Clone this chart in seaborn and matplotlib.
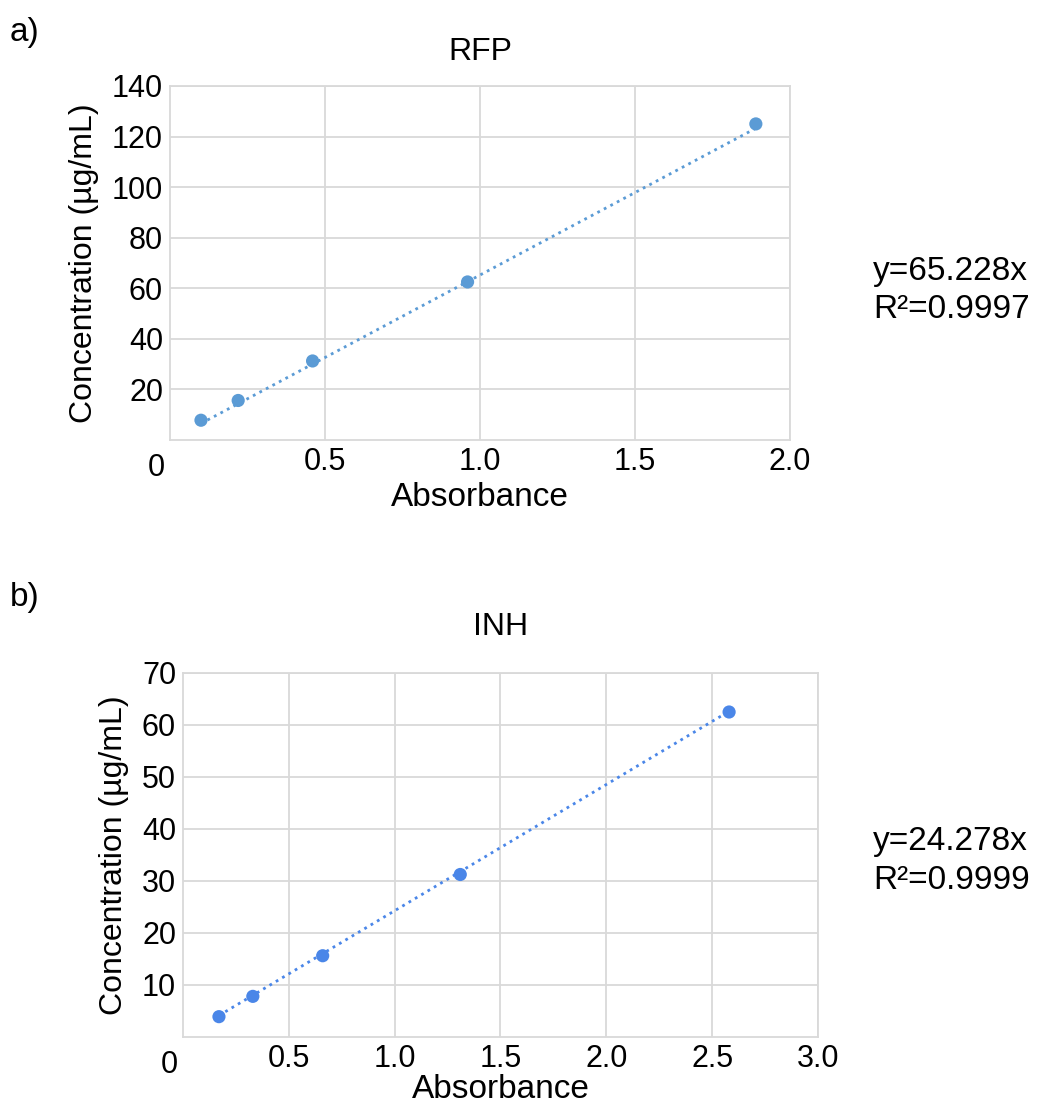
import numpy as np
import pandas as pd
import matplotlib
matplotlib.use("Agg")
import matplotlib.pyplot as plt
import seaborn as sns

# RFP calibration
rfp_abs = [0.10, 0.22, 0.46, 0.96, 1.89]
rfp_conc = [7.8125, 15.625, 31.25, 62.5, 125]
rfp_slope = 65.228
rfp_r2 = "0.9997"

# INH calibration
inh_abs = [0.17, 0.33, 0.66, 1.31, 2.58]
inh_conc = [3.906, 7.8125, 15.625, 31.25, 62.5]
inh_slope = 24.278
inh_r2 = "0.9999"

sns.set_style("white")
plt.rcParams['font.family'] = ['Liberation Sans', 'DejaVu Sans']
plt.rcParams['text.color'] = 'black'
plt.rcParams['axes.labelcolor'] = 'black'

fig = plt.figure(figsize=(10.39, 11.08), dpi=100)


def panel(rect, x, y, slope, r2, title, color, xmax, ymax, ystep, xticks, tag, tag_y, eq_y, tpad, xpad):
    ax = fig.add_axes(rect)
    df = pd.DataFrame({"Absorbance": x, "Concentration": y})
    sns.scatterplot(data=df, x="Absorbance", y="Concentration", ax=ax,
                    color=color, s=90, edgecolor="none", zorder=3)
    # linear trendline through origin
    xs = np.array([min(x), max(x)])
    ax.plot(xs, slope * xs, linestyle=":", color=color, linewidth=2, zorder=2)

    ax.set_xlim(0, xmax)
    ax.set_ylim(0, ymax)
    ax.set_yticks(np.arange(ystep, ymax + 1, ystep))
    ax.set_xticks(xticks)
    ax.set_xticklabels([f"{t:.1f}" for t in xticks])
    # shared origin label, low-left of the corner
    ax.annotate("0", xy=(0, 0), xycoords="axes fraction", xytext=(-10, -20),
                textcoords="offset points", ha="center", va="center", fontsize=22)

    ax.grid(True, color="#d9d9d9", linewidth=1.3)
    ax.set_axisbelow(True)
    for sp in ax.spines.values():
        sp.set_color("#d9d9d9")
        sp.set_linewidth(1.3)
    ax.tick_params(length=0, labelsize=22, colors="black", pad=5)

    ax.set_xlabel("Absorbance", fontsize=24, labelpad=xpad)
    ax.set_ylabel("Concentration (µg/mL)", fontsize=23, labelpad=9)
    ax.set_title(title, fontsize=23, pad=tpad)

    fig.text(0.009, tag_y, tag, fontsize=24, va="center")
    fig.text(0.84, eq_y, f"y={slope}x\nR²={r2}", fontsize=24, va="center", linespacing=1.3)
    return ax


panel([0.1636, 0.6029, 0.5967, 0.3195], rfp_abs, rfp_conc, rfp_slope, rfp_r2,
      "RFP", "#5b9bd5", 2.0, 140, 20, [0.5, 1.0, 1.5, 2.0], "a)", 0.971, 0.738, 19, 4)
panel([0.1761, 0.0641, 0.6112, 0.3285], inh_abs, inh_conc, inh_slope, inh_r2,
      "INH", "#4a86e8", 3.0, 70, 10, [0.5, 1.0, 1.5, 2.0, 2.5, 3.0], "b)", 0.461, 0.223, 27, 0)

fig.savefig("out.png", dpi=100)
